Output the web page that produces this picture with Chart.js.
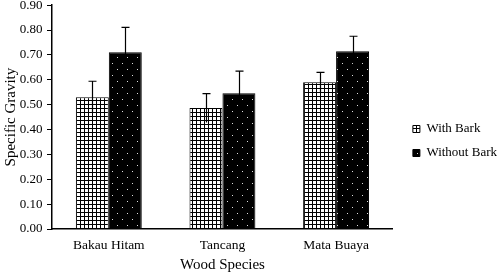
<!DOCTYPE html>
<html>
<head>
<meta charset="utf-8">
<script src="https://cdn.jsdelivr.net/npm/chart.js@4.4.0/dist/chart.umd.min.js"></script>
<style>
  html, body { margin: 0; padding: 0; background: #fff; }
  #wrap { width: 498px; height: 274px; }
</style>
</head>
<body>
<div id="wrap"><canvas id="bars"></canvas></div>
<script>
const species = ['Bakau Hitam', 'Tancang', 'Mata Buaya'];
const withBark = [0.53, 0.486, 0.59];
const withBarkErr = [0.064, 0.058, 0.04];
const withoutBark = [0.711, 0.546, 0.715];
const withoutBarkErr = [0.10, 0.089, 0.06];

// hatch fills
function gridPattern() {
  const c = document.createElement('canvas');
  c.width = 4; c.height = 4;
  const g = c.getContext('2d');
  g.fillStyle = '#fff';
  g.fillRect(0, 0, 4, 4);
  g.fillStyle = '#000';
  g.fillRect(0, 0, 4, 1);
  g.fillRect(0, 0, 1, 4);
  return g.createPattern(c, 'repeat');
}

function dotPattern() {
  const c = document.createElement('canvas');
  c.width = 10; c.height = 12;
  const g = c.getContext('2d');
  g.fillStyle = '#000';
  g.fillRect(0, 0, 10, 12);
  g.fillStyle = '#ddd';
  g.fillRect(2, 3, 1, 1);
  g.fillRect(7, 9, 1, 1);
  return g.createPattern(c, 'repeat');
}

const errorBars = {
  id: 'errorBars',
  afterDatasetsDraw(chart) {
    const ctx = chart.ctx;
    const y = chart.scales.y;
    const errs = [withBarkErr, withoutBarkErr];
    ctx.save();
    ctx.strokeStyle = '#000';
    ctx.lineWidth = 1.2;
    chart.data.datasets.forEach((ds, i) => {
      const meta = chart.getDatasetMeta(i);
      meta.data.forEach((bar, j) => {
        const v = ds.data[j], e = errs[i][j];
        const x = Math.round(bar.x) + 0.5;
        const top = y.getPixelForValue(v + e);
        const bottom = y.getPixelForValue(v - e);
        ctx.beginPath();
        ctx.moveTo(x, bottom);
        ctx.lineTo(x, top);
        ctx.moveTo(x - 4, top);
        ctx.lineTo(x + 4, top);
        ctx.stroke();
      });
    });
    ctx.restore();
  }
};

// push the legend a bit further right/down, as in the original figure
const legendShift = {
  id: 'legendShift',
  afterLayout(chart) {
    chart.legend.left += 9;
    chart.legend.right += 9;
    chart.legend.top += 4;
    chart.legend.bottom += 4;
  }
};

const serif = "'Liberation Serif', 'Times New Roman', serif";

new Chart(document.getElementById('bars'), {
  type: 'bar',
  data: {
    labels: species,
    datasets: [
      {
        label: 'With Bark',
        data: withBark,
        backgroundColor: gridPattern(),
        borderColor: '#000',
        borderWidth: 1
      },
      {
        label: 'Without Bark',
        data: withoutBark,
        backgroundColor: dotPattern(),
        borderColor: '#000',
        borderWidth: 1
      }
    ]
  },
  options: {
    responsive: true,
    maintainAspectRatio: false,
    animation: false,
    categoryPercentage: 0.58,
    barPercentage: 1.0,
    layout: { padding: { top: 0, right: 0, bottom: 0, left: 2 } },
    plugins: {
      legend: {
        position: 'right',
        labels: {
          color: '#000',
          boxWidth: 7,
          boxHeight: 7,
          padding: 11,
          font: { family: serif, size: 13 }
        }
      },
      tooltip: { enabled: false }
    },
    scales: {
      x: {
        afterFit: s => { s.height = 45; },
        grid: { display: false, drawTicks: false },
        border: { color: '#000', width: 1.5 },
        ticks: { color: '#000', padding: 8, font: { family: serif, size: 13.5 } },
        title: { display: true, text: 'Wood Species', color: '#000', padding: { top: 2, bottom: 0 }, font: { family: serif, size: 15 } }
      },
      y: {
        min: 0,
        max: 0.9,
        afterFit: s => { s.width = 50; },
        grid: { drawOnChartArea: false, drawTicks: true, tickLength: 5, color: '#000' },
        border: { color: '#000', width: 1.5 },
        ticks: {
          stepSize: 0.1,
          color: '#000',
          padding: 4.5,
          font: { family: serif, size: 13, lineHeight: 0.1 },
          callback: v => v.toFixed(2)
        },
        title: { display: true, text: 'Specific Gravity', color: '#000', padding: 0, font: { family: serif, size: 15 } }
      }
    }
  },
  plugins: [errorBars, legendShift]
});
</script>
</body>
</html>
